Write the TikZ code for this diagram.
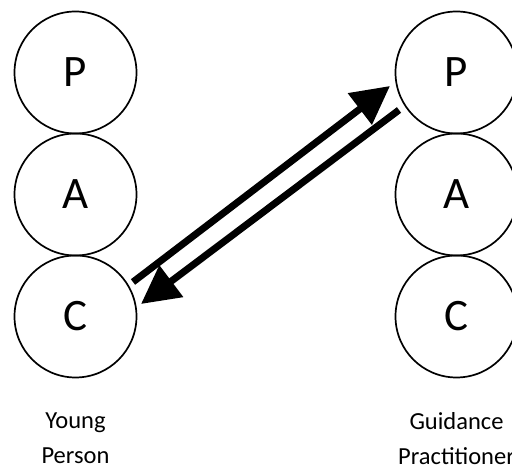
\documentclass[tikz,border=0pt]{standalone}
\usepackage{fontspec}
\setmainfont{Carlito}
\usepackage{tikz}
\usetikzlibrary{arrows.meta,positioning}

\begin{document}
\begin{tikzpicture}[x=1pt,y=1pt,
  ego/.style={draw,circle,line width=1.7pt,minimum size=122pt,inner sep=0pt,outer sep=0pt,font=\fontsize{45}{45}\selectfont},
  who/.style={align=center,inner sep=0pt,font=\fontsize{24.5}{35}\selectfont},
  talk/.style={line width=7pt,-{Triangle[length=38pt,width=38pt]}}]
\clip (0,0) rectangle (512,468);
\node[ego] (p1) at (75.5,395.5) {P};
\node[ego] (a1) [below =0pt of p1] {A};
\node[ego] (c1) [below =0pt of a1] {C};
\node[ego] (p2) at (456.5,395.5) {P};
\node[ego] (a2) [below =0pt of p2] {A};
\node[ego] (c2) [below =0pt of a2] {C};
\node[who] (yp) [below =35pt of c1] {Young\\Person};
\node[who] (gp) [below =35pt of c2] {Guidance\\Practitioner};
\draw[talk] ([shift={(57.5pt,34.5pt)}]c1.center) -- ([shift={(-66.5pt,-13.5pt)}]p2.center);
\draw[talk] ([shift={(-57.5pt,-37.5pt)}]p2.center) -- ([shift={(65.5pt,12.5pt)}]c1.center);
\end{tikzpicture}
\end{document}
